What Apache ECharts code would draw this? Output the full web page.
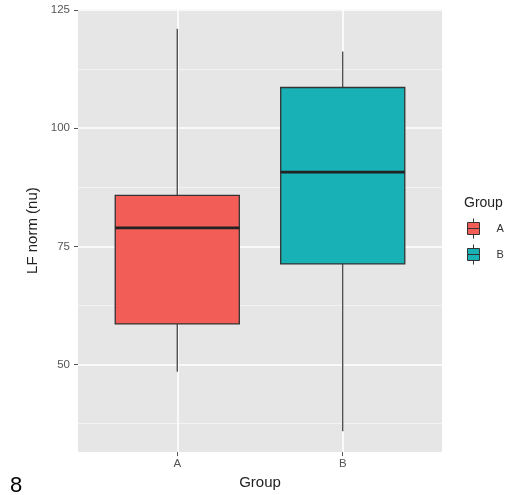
<!DOCTYPE html>
<html>
<head>
<meta charset="utf-8">
<script src="https://cdn.jsdelivr.net/npm/echarts@6/dist/echarts.min.js"></script>
<style>
  html, body { margin: 0; padding: 0; background: #fff; }
  #chart { width: 508px; height: 495px; }
</style>
</head>
<body>
<div id="chart"></div>
<script>
// Box summaries per group
const GROUPS = ['A', 'B'];
const WHISKER_LOW = [48.5, 35.9];
const Q1 = [58.6, 71.3];
const MEDIAN = [78.9, 90.7];
const Q3 = [85.8, 108.6];
const WHISKER_HIGH = [121.0, 116.2];
const COLORS = ['#F25D58', '#17B1B6'];

// Axis ticks
const Y_TICKS = [50, 75, 100, 125];
const Y_MINOR = [37.5, 62.5, 87.5, 112.5];
const X_TICKS = [1, 2];

const BOX_WIDTH = 0.75;
const FONT = '"Liberation Sans", Arial, sans-serif';

function renderBox(params, api) {
  const x = api.value(0);
  const half = BOX_WIDTH / 2;
  const lo = api.coord([x, api.value(1)]);
  const q1 = api.coord([x - half, api.value(2)]);
  const med = api.coord([x + half, api.value(3)]);
  const q3 = api.coord([x + half, api.value(4)]);
  const hi = api.coord([x, api.value(5)]);
  const left = q1[0];
  const right = q3[0];
  const fill = api.visual('color');
  return {
    type: 'group',
    children: [
      { type: 'line', shape: { x1: lo[0], y1: q1[1], x2: lo[0], y2: lo[1] },
        style: { stroke: '#444', lineWidth: 1.3 } },
      { type: 'line', shape: { x1: hi[0], y1: q3[1], x2: hi[0], y2: hi[1] },
        style: { stroke: '#444', lineWidth: 1.3 } },
      { type: 'rect', shape: { x: left, y: q3[1], width: right - left, height: q1[1] - q3[1] },
        style: { fill: fill, stroke: '#333', lineWidth: 1.3 } },
      { type: 'line', shape: { x1: left, y1: med[1], x2: right, y2: med[1] },
        style: { stroke: '#222', lineWidth: 2.8 } }
    ]
  };
}

const series = GROUPS.map((g, i) => ({
  name: g,
  type: 'custom',
  renderItem: renderBox,
  encode: { x: 0, y: [1, 2, 3, 4, 5] },
  itemStyle: { color: COLORS[i] },
  data: [[X_TICKS[i], WHISKER_LOW[i], Q1[i], MEDIAN[i], Q3[i], WHISKER_HIGH[i]]]
}));

// legend key: small box glyph with whiskers and a median bar
const keyIcon = 'path://M6,0L6,4M0,4L12,4L12,16L0,16ZM0,10L12,10M6,16L6,20';

const option = {
  animation: false,
  textStyle: { fontFamily: FONT },
  grid: {
    left: 78, right: 66, top: 9, bottom: 41,
    show: true, backgroundColor: '#E6E6E6', borderWidth: 0
  },
  title: {
    text: 'Group', left: 464, top: 196, padding: 0,
    textStyle: { fontSize: 14, fontWeight: 'normal', color: '#222', fontFamily: FONT }
  },
  legend: {
    orient: 'vertical', left: 467, top: 218,
    itemWidth: 12, itemHeight: 20, itemGap: 5, padding: 0,
    data: GROUPS.map(g => ({ name: g, icon: keyIcon })),
    itemStyle: { borderColor: '#333', borderWidth: 1 },
    textStyle: { fontSize: 11, color: '#333', fontFamily: FONT, padding: [0, 0, 0, 12] }
  },
  xAxis: {
    type: 'value', min: 0.4, max: 2.6,
    name: 'Group', nameLocation: 'middle', nameGap: 20,
    nameTextStyle: { fontSize: 15, color: '#222', fontFamily: FONT },
    axisLine: { show: false },
    axisTick: { show: true, length: 4, customValues: X_TICKS, lineStyle: { color: '#555' } },
    axisLabel: { customValues: X_TICKS, formatter: v => GROUPS[Math.round(v) - 1],
      fontSize: 11.5, color: '#555', margin: 6, fontFamily: FONT },
    splitLine: { show: true, lineStyle: { color: '#FFFFFF', width: 1.6 } }
  },
  yAxis: [{
    type: 'value', min: 31.5, max: 125.2,
    name: 'LF norm (nu)', nameLocation: 'middle', nameGap: 32,
    nameTextStyle: { fontSize: 15, color: '#222', fontFamily: FONT },
    axisLine: { show: false },
    axisTick: { show: true, length: 4, customValues: Y_TICKS, lineStyle: { color: '#555' } },
    axisLabel: { customValues: Y_TICKS, fontSize: 11.5, color: '#555', margin: 8, fontFamily: FONT },
    splitLine: { show: true, lineStyle: { color: '#FFFFFF', width: 1.6 } }
  }, {
    type: 'value', min: 31.5, max: 125.2, position: 'left',
    axisLine: { show: false },
    axisTick: { show: false, customValues: Y_MINOR },
    axisLabel: { show: false, customValues: Y_MINOR },
    splitLine: { show: true, lineStyle: { color: '#F4F4F4', width: 0.9 } }
  }],
  graphic: [{
    type: 'text', left: 10, top: 475,
    style: { text: '8', fontSize: 22, fill: '#000', fontFamily: FONT }
  }],
  series: series
};

const chart = echarts.init(document.getElementById('chart'), null, { renderer: 'canvas' });
chart.setOption(option);
</script>
</body>
</html>
